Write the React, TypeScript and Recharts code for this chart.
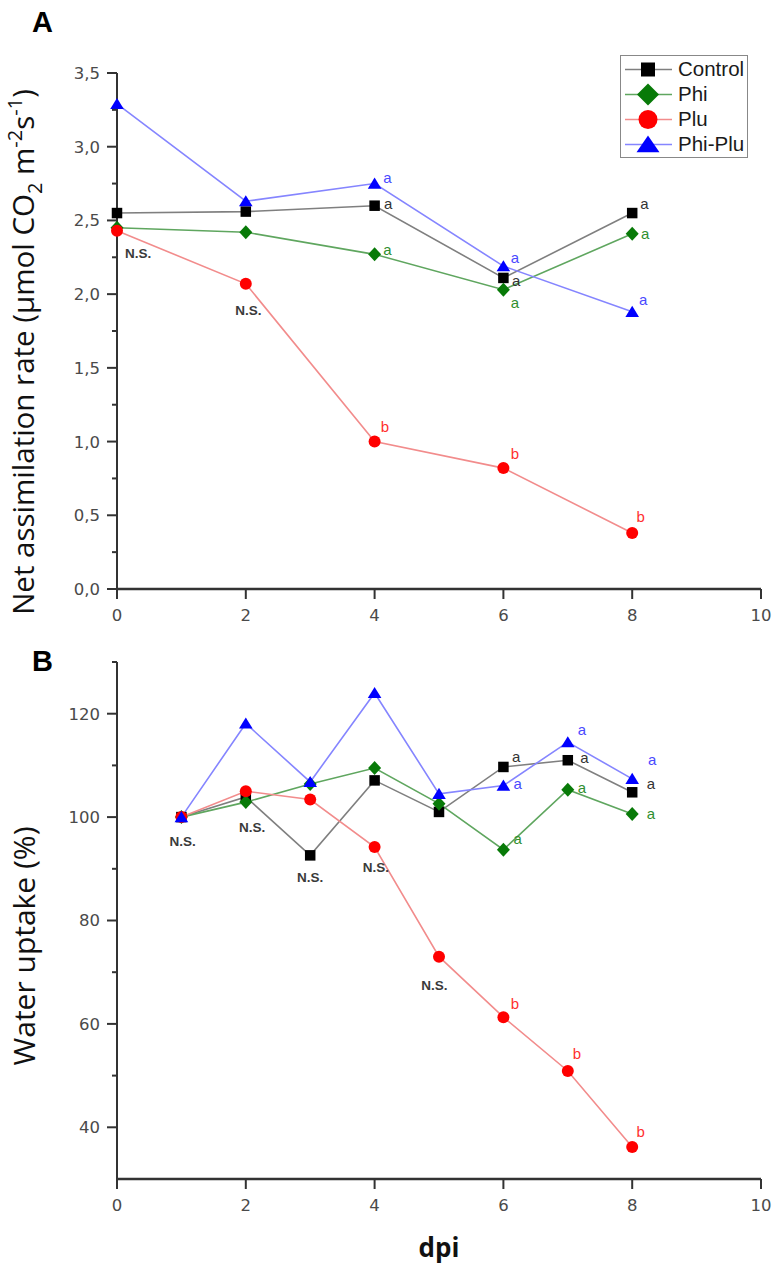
import React from "react";
import {
  ComposedChart,
  Line,
  XAxis,
  YAxis,
  Legend,
  ReferenceDot,
} from "recharts";

// ---- Panel A: net assimilation rate ----
const daysA = [0, 2, 4, 6, 8];
const controlA = [2.55, 2.56, 2.6, 2.11, 2.55];
const phiA = [2.45, 2.42, 2.27, 2.03, 2.41];
const pluA = [2.43, 2.07, 1.0, 0.82, 0.38];
const phiPluA = [3.29, 2.63, 2.75, 2.19, 1.88];

const yMajorA = [0, 0.5, 1, 1.5, 2, 2.5, 3, 3.5];
const yMinorA = [0.25, 0.75, 1.25, 1.75, 2.25, 2.75, 3.25];

const notesA = [
  { day: 0.33, value: 2.28, text: "N.S.", group: "ns" },
  { day: 2.04, value: 1.89, text: "N.S.", group: "ns" },
  { day: 4.2, value: 2.79, text: "a", group: "phiPlu" },
  { day: 4.21, value: 2.61, text: "a", group: "control" },
  { day: 4.2, value: 2.3, text: "a", group: "phi" },
  { day: 6.18, value: 2.25, text: "a", group: "phiPlu" },
  { day: 6.2, value: 2.09, text: "a", group: "control" },
  { day: 6.18, value: 1.94, text: "a", group: "phi" },
  { day: 8.19, value: 2.61, text: "a", group: "control" },
  { day: 8.2, value: 2.41, text: "a", group: "phi" },
  { day: 8.17, value: 1.96, text: "a", group: "phiPlu" },
  { day: 4.16, value: 1.1, text: "b", group: "plu" },
  { day: 6.18, value: 0.92, text: "b", group: "plu" },
  { day: 8.13, value: 0.49, text: "b", group: "plu" },
];

// ---- Panel B: water uptake ----
const daysB = [1, 2, 3, 4, 5, 6, 7, 8];
const controlB = [100, 103.9, 92.6, 107.1, 101.0, 109.7, 111.0, 104.8];
const phiB = [100, 102.9, 106.4, 109.5, 102.6, 93.7, 105.3, 100.6];
const pluB = [100, 105.0, 103.4, 94.2, 73.0, 61.3, 50.9, 36.2];
const phiPluB = [100, 118.1, 106.8, 124.0, 104.5, 106.1, 114.5, 107.4];

const yMajorB = [40, 60, 80, 100, 120];
const yMinorB = [50, 70, 90, 110, 130];

const notesB = [
  { day: 1.02, value: 95.4, text: "N.S.", group: "ns" },
  { day: 2.1, value: 98.1, text: "N.S.", group: "ns" },
  { day: 3.0, value: 88.4, text: "N.S.", group: "ns" },
  { day: 4.02, value: 90.3, text: "N.S.", group: "ns" },
  { day: 4.93, value: 67.4, text: "N.S.", group: "ns" },
  { day: 6.2, value: 111.7, text: "a", group: "control" },
  { day: 6.22, value: 106.5, text: "a", group: "phiPlu" },
  { day: 6.22, value: 95.8, text: "a", group: "phi" },
  { day: 7.22, value: 116.8, text: "a", group: "phiPlu" },
  { day: 7.26, value: 111.5, text: "a", group: "control" },
  { day: 7.22, value: 105.7, text: "a", group: "phi" },
  { day: 8.31, value: 111.0, text: "a", group: "phiPlu" },
  { day: 8.29, value: 106.5, text: "a", group: "control" },
  { day: 8.29, value: 100.7, text: "a", group: "phi" },
  { day: 6.18, value: 63.9, text: "b", group: "plu" },
  { day: 7.14, value: 54.2, text: "b", group: "plu" },
  { day: 8.13, value: 39.2, text: "b", group: "plu" },
];

const xTicks = [0, 2, 4, 6, 8, 10];

const SERIES = [
  { key: "control", name: "Control", line: "#7f7f7f", fill: "#000000", shape: "square" },
  { key: "phi", name: "Phi", line: "#5fa65f", fill: "#087a08", shape: "diamond" },
  { key: "plu", name: "Plu", line: "#f28c8c", fill: "#ff0000", shape: "circle" },
  { key: "phiPlu", name: "Phi-Plu", line: "#8585ff", fill: "#0000ff", shape: "triangle" },
];

const NOTE_COLORS: Record<string, string> = {
  ns: "#3a3a3a",
  control: "#333333",
  phi: "#2f8f2f",
  plu: "#ff3030",
  phiPlu: "#4a4aff",
};

const TICK_SIZE = 10;
const TICK_MARGIN = 7;
const AXIS = "#333333";
const TICK_FONT = "DejaVu Sans";
const LABEL_FONT = "Open Sans";

const rowsA = daysA.map((d, i) => ({
  day: d,
  control: controlA[i],
  phi: phiA[i],
  plu: pluA[i],
  phiPlu: phiPluA[i],
}));

const rowsB = daysB.map((d, i) => ({
  day: d,
  control: controlB[i],
  phi: phiB[i],
  plu: pluB[i],
  phiPlu: phiPluB[i],
}));

function Marker({ shape, cx, cy, color, big = false }: any) {
  if (shape === "square") {
    const s = big ? 14 : 10.5;
    return <rect x={cx - s / 2} y={cy - s / 2} width={s} height={s} fill={color} />;
  }
  if (shape === "diamond") {
    const w = big ? 11 : 6.5;
    const h = big ? 11 : 7;
    return (
      <polygon
        points={`${cx},${cy - h} ${cx + w},${cy} ${cx},${cy + h} ${cx - w},${cy}`}
        fill={color}
      />
    );
  }
  if (shape === "circle") {
    return <circle cx={cx} cy={cy} r={big ? 9.5 : 6} fill={color} />;
  }
  const w = big ? 11.5 : 6.8;
  const h = big ? 9 : 6;
  return (
    <polygon
      points={`${cx},${cy - h} ${cx + w},${cy + h * 0.85} ${cx - w},${cy + h * 0.85}`}
      fill={color}
    />
  );
}

function makeDot(shape: string, color: string) {
  return (p: any) => {
    if (p.cx == null || p.cy == null) return <g key={p.index} />;
    return <Marker key={p.index} shape={shape} cx={p.cx} cy={p.cy} color={color} />;
  };
}

function makeYTick(majors: number[], fmt: (v: number) => string) {
  return (p: any) => {
    const axisX = p.x + TICK_SIZE + TICK_MARGIN;
    const major = majors.includes(p.payload.value);
    return (
      <g>
        <line
          x1={axisX - (major ? TICK_SIZE : 5)}
          x2={axisX}
          y1={p.y}
          y2={p.y}
          stroke={AXIS}
          strokeWidth={2}
        />
        {major && (
          <text
            x={p.x}
            y={p.y}
            dy="0.36em"
            textAnchor="end"
            fill="#4a4a4a"
            fontSize={16.5}
            fontFamily={TICK_FONT}
          >
            {fmt(p.payload.value)}
          </text>
        )}
      </g>
    );
  };
}

function noteShape(text: string, group: string) {
  return (p: any) => (
    <text
      x={p.cx}
      y={p.cy}
      dy="0.35em"
      textAnchor="middle"
      fill={NOTE_COLORS[group]}
      fontSize={group === "ns" ? 13.5 : 15}
      fontWeight={group === "ns" ? "bold" : "normal"}
      fontFamily="Liberation Sans"
    >
      {text}
    </text>
  );
}

const renderLegend = ({ payload }: any) => {
  const order = SERIES.map((s) => s.key);
  const items = [...(payload || [])].sort(
    (a: any, b: any) => order.indexOf(a.dataKey) - order.indexOf(b.dataKey)
  );
  return (
    <div
      style={{
        border: "1px solid #888",
        background: "#fff",
        width: 128,
        boxSizing: "border-box",
        paddingLeft: 2,
        paddingTop: 1,
      }}
    >
      {items.map((entry: any) => {
        const s = SERIES.find((x) => x.key === entry.dataKey)!;
        return (
          <div
            key={s.key}
            style={{ display: "flex", alignItems: "center", height: 25 }}
          >
            <svg width={51} height={25} style={{ flexShrink: 0 }}>
              <line x1={2} x2={49} y1={12.5} y2={12.5} stroke={s.line} strokeWidth={1.5} />
              <Marker shape={s.shape} cx={25} cy={12.5} color={s.fill} big />
            </svg>
            <span
              style={{
                fontFamily: "Liberation Sans",
                fontSize: 20.5,
                color: "#1a1a1a",
                marginLeft: 4,
                lineHeight: 1,
                whiteSpace: "nowrap",
              }}
            >
              {entry.value}
            </span>
          </div>
        );
      })}
    </div>
  );
};

const sub = 20;

const yLabelA = () => (
  <text
    transform="rotate(-90, 34, 352)"
    x={34}
    y={352}
    textAnchor="middle"
    fontFamily={LABEL_FONT}
    fontSize={29.5}
    fill="#111"
  >
    Net assimilation rate (µmol CO
    <tspan dy={8} fontSize={sub}>2</tspan>
    <tspan dy={-8}> m</tspan>
    <tspan dy={-12} fontSize={sub}>-2</tspan>
    <tspan dy={12}>s</tspan>
    <tspan dy={-12} fontSize={sub}>-1</tspan>
    <tspan dy={12}>)</tspan>
  </text>
);

const yLabelB = () => (
  <text
    transform="rotate(-90, 35, 306)"
    x={35}
    y={306}
    textAnchor="middle"
    fontFamily={LABEL_FONT}
    fontSize={30}
    fill="#111"
  >
    Water uptake (%)
  </text>
);

const xLabelB = ({ viewBox }: any) => (
  <text
    x={viewBox.x + viewBox.width / 2}
    y={617}
    textAnchor="middle"
    fontFamily={LABEL_FONT}
    fontSize={26}
    fontWeight="bold"
    fill="#111"
  >
    dpi
  </text>
);

const fmtA = (v: number) => v.toFixed(1).replace(".", ",");
const fmtB = (v: number) => String(v);

function seriesLines() {
  return SERIES.map((s) => (
    <Line
      key={s.key}
      type="linear"
      dataKey={s.key}
      name={s.name}
      stroke={s.line}
      strokeWidth={1.6}
      dot={makeDot(s.shape, s.fill)}
      activeDot={false}
      isAnimationActive={false}
    />
  ));
}

const panelLetter: React.CSSProperties = {
  position: "absolute",
  left: 32,
  fontFamily: "Liberation Sans",
  fontWeight: "bold",
  fontSize: 29,
  lineHeight: 1,
  color: "#000",
};

const xTickStyle = { fill: "#4a4a4a", fontSize: 16.5, fontFamily: TICK_FONT };

export default function App() {
  return (
    <div
      style={{
        position: "absolute",
        left: 0,
        top: 0,
        width: 783,
        height: 1278,
        background: "#fff",
        overflow: "hidden",
      }}
    >
      <div style={{ ...panelLetter, top: 8 }}>A</div>
      <div style={{ ...panelLetter, top: 647 }}>B</div>

      <div style={{ position: "absolute", left: 0, top: 0 }}>
        <ComposedChart
          width={783}
          height={640}
          data={rowsA}
          margin={{ top: 73, right: 22, left: 67, bottom: 0 }}
        >
          <XAxis
            dataKey="day"
            type="number"
            domain={[0, 10]}
            ticks={xTicks}
            interval={0}
            height={51}
            tickSize={TICK_SIZE}
            tickMargin={10}
            axisLine={{ stroke: AXIS, strokeWidth: 2.5 }}
            tickLine={{ stroke: AXIS, strokeWidth: 2 }}
            tick={xTickStyle}
          />
          <YAxis
            type="number"
            domain={[0, 3.5]}
            ticks={[...yMajorA, ...yMinorA].sort((a, b) => a - b)}
            interval={0}
            width={50}
            tickSize={TICK_SIZE}
            tickMargin={TICK_MARGIN}
            axisLine={{ stroke: AXIS, strokeWidth: 2 }}
            tickLine={false}
            tick={makeYTick(yMajorA, fmtA)}
            label={{ content: yLabelA }}
          />
          <Legend
            layout="vertical"
            align="center"
            verticalAlign="middle"
            wrapperStyle={{ left: 620, top: 55, width: 128 }}
            content={renderLegend}
          />
          {seriesLines()}
          {notesA.map((n, i) => (
            <ReferenceDot
              key={`a-${i}`}
              x={n.day}
              y={n.value}
              r={0}
              shape={noteShape(n.text, n.group)}
            />
          ))}
        </ComposedChart>
      </div>

      <div style={{ position: "absolute", left: 0, top: 640 }}>
        <ComposedChart
          width={783}
          height={638}
          data={rowsB}
          margin={{ top: 22, right: 22, left: 67, bottom: 0 }}
        >
          <XAxis
            dataKey="day"
            type="number"
            domain={[0, 10]}
            ticks={xTicks}
            interval={0}
            height={99}
            tickSize={TICK_SIZE}
            tickMargin={10}
            axisLine={{ stroke: AXIS, strokeWidth: 2.5 }}
            tickLine={{ stroke: AXIS, strokeWidth: 2 }}
            tick={xTickStyle}
            label={{ content: xLabelB }}
          />
          <YAxis
            type="number"
            domain={[30, 130]}
            ticks={[...yMajorB, ...yMinorB].sort((a, b) => a - b)}
            interval={0}
            width={50}
            tickSize={TICK_SIZE}
            tickMargin={TICK_MARGIN}
            axisLine={{ stroke: AXIS, strokeWidth: 2 }}
            tickLine={false}
            tick={makeYTick(yMajorB, fmtB)}
            label={{ content: yLabelB }}
          />
          {seriesLines()}
          {notesB.map((n, i) => (
            <ReferenceDot
              key={`b-${i}`}
              x={n.day}
              y={n.value}
              r={0}
              shape={noteShape(n.text, n.group)}
            />
          ))}
        </ComposedChart>
      </div>
    </div>
  );
}
